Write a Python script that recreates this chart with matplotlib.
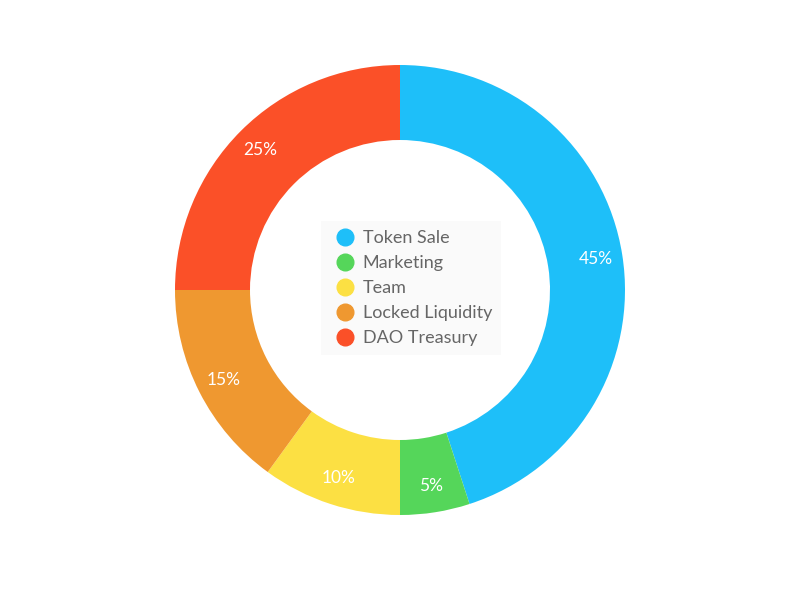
import matplotlib.pyplot as plt
from matplotlib.lines import Line2D

labels = ["Token Sale", "Marketing", "Team", "Locked Liquidity", "DAO Treasury"]
shares = [45, 5, 10, 15, 25]
colors = ["#1EBFF9", "#55D65A", "#FCE043", "#EF9830", "#FB5028"]

plt.rcParams['font.family'] = ['Lato', 'DejaVu Sans']

fig = plt.figure(figsize=(7.97, 5.90), dpi=100)
ax = fig.add_axes([0, 0, 1, 1])

wedges, texts, autotexts = ax.pie(
    shares, colors=colors, startangle=90, counterclock=False,
    radius=225, center=(400, 300), frame=True,
    wedgeprops=dict(width=75, linewidth=0),
    autopct='%d%%', pctdistance=0.88,
    textprops=dict(color='white', fontsize=12.5))
ax.set_xlim(0, 797)
ax.set_ylim(0, 590)
ax.axis('off')

handles = [Line2D([], [], marker='o', linestyle='none', markersize=12,
                  markerfacecolor=c, markeredgecolor=c) for c in colors]
leg = ax.legend(handles, labels, loc='center', bbox_to_anchor=(411 / 797, 1 - 288 / 590),
                frameon=True, fontsize=13, labelspacing=0.5, handletextpad=0.2,
                handlelength=1.6, borderpad=0.5, labelcolor='#666666')
leg.get_frame().set_facecolor('#f8f8f8')
leg.get_frame().set_edgecolor('none')
leg.get_frame().set_alpha(0.7)
leg.get_frame().set_boxstyle('square', pad=0)

fig.savefig('out.png', dpi=100)
